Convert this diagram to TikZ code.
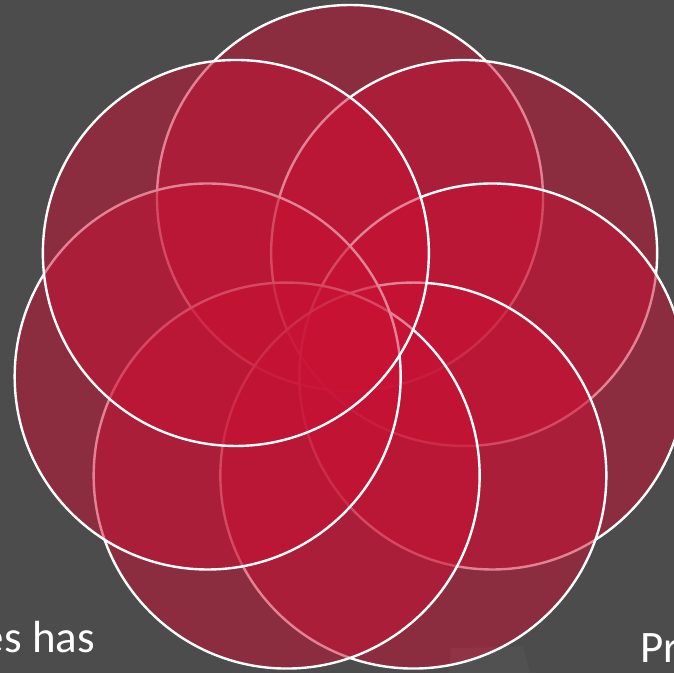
\documentclass[tikz,border=0pt]{standalone}
\usepackage{fontspec}
\setmainfont{Carlito}
\definecolor{bg}{RGB}{76,76,76}
\definecolor{petal}{RGB}{200,18,52}
\tikzset{
  petalc/.style={fill=petal, fill opacity=0.52, draw=white, draw opacity=1, line width=2.4pt},
  lbl/.style={text=white, inner sep=0pt, font=\fontsize{45}{54}\selectfont}
}
\begin{document}
\begin{tikzpicture}[x=1pt,y=-1pt]
\useasboundingbox (0,0) rectangle (674,673);
\fill[bg] (0,0) rectangle (674,673);
% seven overlapping circles, clockwise from top
\foreach \k/\nm in {0/ct,1/cur,2/cr,3/cbr,4/cbl,5/cl,6/cul}{
  \path ({350+146*sin(\k*360/7)}, {344-146*cos(\k*360/7)}) coordinate (\nm);
  \draw[petalc] (\nm) circle[radius=193];
}
% faint shape at bottom
\fill[white, opacity=0.03] (449,673) -- (451,648) -- (523,647) -- (530,673) -- cycle;
\node[lbl, anchor=base east] (t1) at (95,652) {es has};
\node[lbl, anchor=base west] (t2) at (640,662) {Pr};
\end{tikzpicture}
\end{document}
